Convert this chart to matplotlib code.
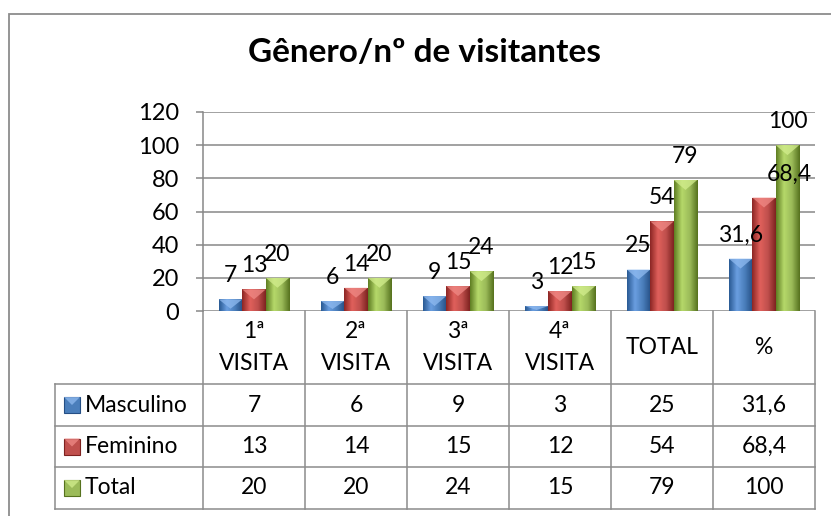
import numpy as np
import matplotlib.pyplot as plt
from matplotlib.patches import Rectangle, Polygon
from matplotlib.colors import LinearSegmentedColormap

plt.rcParams['font.family'] = ['Lato', 'DejaVu Sans']

categories = ["1ª\nVISITA", "2ª\nVISITA", "3ª\nVISITA", "4ª\nVISITA", "TOTAL", "%"]
series_names = ["Masculino", "Feminino", "Total"]
masculino = [7, 6, 9, 3, 25, 31.6]
feminino = [13, 14, 15, 12, 54, 68.4]
total = [20, 20, 24, 15, 79, 100]
yticks = [0, 20, 40, 60, 80, 100, 120]

series = [masculino, feminino, total]
# (dark edge, light, base, dark edge) per series
palettes = [("#2a5a94", "#6a9ee0", "#4a7ebb", "#254f85"),
            ("#8c2624", "#e0605b", "#c0504d", "#7e2220"),
            ("#5f7d22", "#b5d86a", "#9bbb59", "#56721e")]
bevel_cols = ["#8fbaf0", "#f08a86", "#d3ee8e"]

W, H = 831, 516
fig = plt.figure(figsize=(W / 100, H / 100), dpi=100)

# plot area in pixels
L, R, T, B = 203, 815, 112, 311
ax = fig.add_axes([L / W, 1 - B / H, (R - L) / W, (B - T) / H])

FS = 16.5

def fmt(v):
    return f"{v:g}".replace(".", ",")

x = np.arange(len(categories))
bw = 0.23
for k, (vals, pal) in enumerate(zip(series, palettes)):
    cmap = LinearSegmentedColormap.from_list(f"g{k}", pal)
    grad = np.linspace(0, 1, 64).reshape(1, -1)
    bars = ax.bar(x + (k - 1) * bw, vals, bw, color=pal[2], edgecolor=pal[3],
                  linewidth=0.6, zorder=3)
    for i, (b, v) in enumerate(zip(bars, vals)):
        x0, x1 = b.get_x(), b.get_x() + b.get_width()
        im = ax.imshow(grad, cmap=cmap, extent=[x0, x1, 0, v], aspect='auto',
                       zorder=3.1, interpolation='bilinear')
        im.set_clip_path(b)
        d = min(6, v * 0.8)
        ax.add_patch(Polygon([(x0, v), (x1, v), ((x0 + x1) / 2, v - d)],
                             closed=True, color=bevel_cols[k], alpha=0.75,
                             lw=0, zorder=3.2))
        dx = 18 if (k == 1 and i == 5) else 0
        ax.annotate(fmt(v), ((x0 + x1) / 2, v), xytext=(dx, 17),
                    textcoords='offset points', ha='center', va='center',
                    fontsize=FS, zorder=5)

ax.set_xlim(-0.5, len(categories) - 0.5)
ax.set_ylim(0, 120)
ax.set_yticks(yticks)
ax.set_xticks([])
ax.tick_params(axis='y', length=5, width=1.1, color="#878787", pad=12,
               labelsize=FS + 0.5)
ax.grid(axis='y', color="#878787", linewidth=1.1, zorder=0)
ax.set_axisbelow(True)
for s in ["top", "right", "bottom"]:
    ax.spines[s].set_visible(False)
ax.spines["left"].set_color("#878787")
ax.spines["left"].set_linewidth(1.1)

# data table under the plot
rows_px = [311, 384, 426, 467, 509]
yf = [(B - p) / (B - T) for p in rows_px]
leg_left = (55 - L) / (R - L)
tc = ax.transAxes
lc, lw = "#8c8c8c", 1.1
n = len(categories)
for i in range(n + 1):
    ax.plot([i / n, i / n], [yf[0], yf[-1]], color=lc, lw=lw, transform=tc,
            clip_on=False)
ax.plot([leg_left, leg_left], [yf[1], yf[-1]], color=lc, lw=lw, transform=tc,
        clip_on=False)
for yy in yf[1:]:
    ax.plot([leg_left, 1], [yy, yy], color=lc, lw=lw, transform=tc,
            clip_on=False)

for i, c in enumerate(categories):
    ax.text((i + 0.5) / n, (yf[0] + yf[1]) / 2, c, transform=tc, ha='center',
            va='center', fontsize=FS, linespacing=1.7)

key_w = 16 / (R - L)
key_h = 16 / (B - T)
for r, (name, vals, pal) in enumerate(zip(series_names, series, palettes)):
    yc = (yf[r + 1] + yf[r + 2]) / 2
    kx = (64 - L) / (R - L)
    ax.add_patch(Rectangle((kx, yc - key_h / 2), key_w, key_h, transform=tc,
                           facecolor=pal[2], edgecolor=pal[3], lw=0.8,
                           clip_on=False))
    ax.add_patch(Polygon([(kx, yc + key_h / 2), (kx + key_w, yc + key_h / 2),
                          (kx + key_w / 2, yc)], closed=True, transform=tc,
                         color=bevel_cols[r], alpha=0.75, lw=0, clip_on=False))
    ax.text((85 - L) / (R - L), yc, name, transform=tc, ha='left',
            va='center', fontsize=FS)
    for i, v in enumerate(vals):
        ax.text((i + 0.5) / n, yc, fmt(v), transform=tc, ha='center',
                va='center', fontsize=FS)

# title and chart frame
fig.text(425 / W, 1 - 62 / H, "Gênero/nº de visitantes", ha='center',
         va='baseline', fontsize=24, fontweight='bold')
fig.patches.append(Rectangle((9 / W, -0.1), 1.2, 1 - 14 / H + 0.1,
                             transform=fig.transFigure, fill=False,
                             edgecolor="#8c8c8c", lw=1.3))

fig.savefig("out.png", dpi=100)
